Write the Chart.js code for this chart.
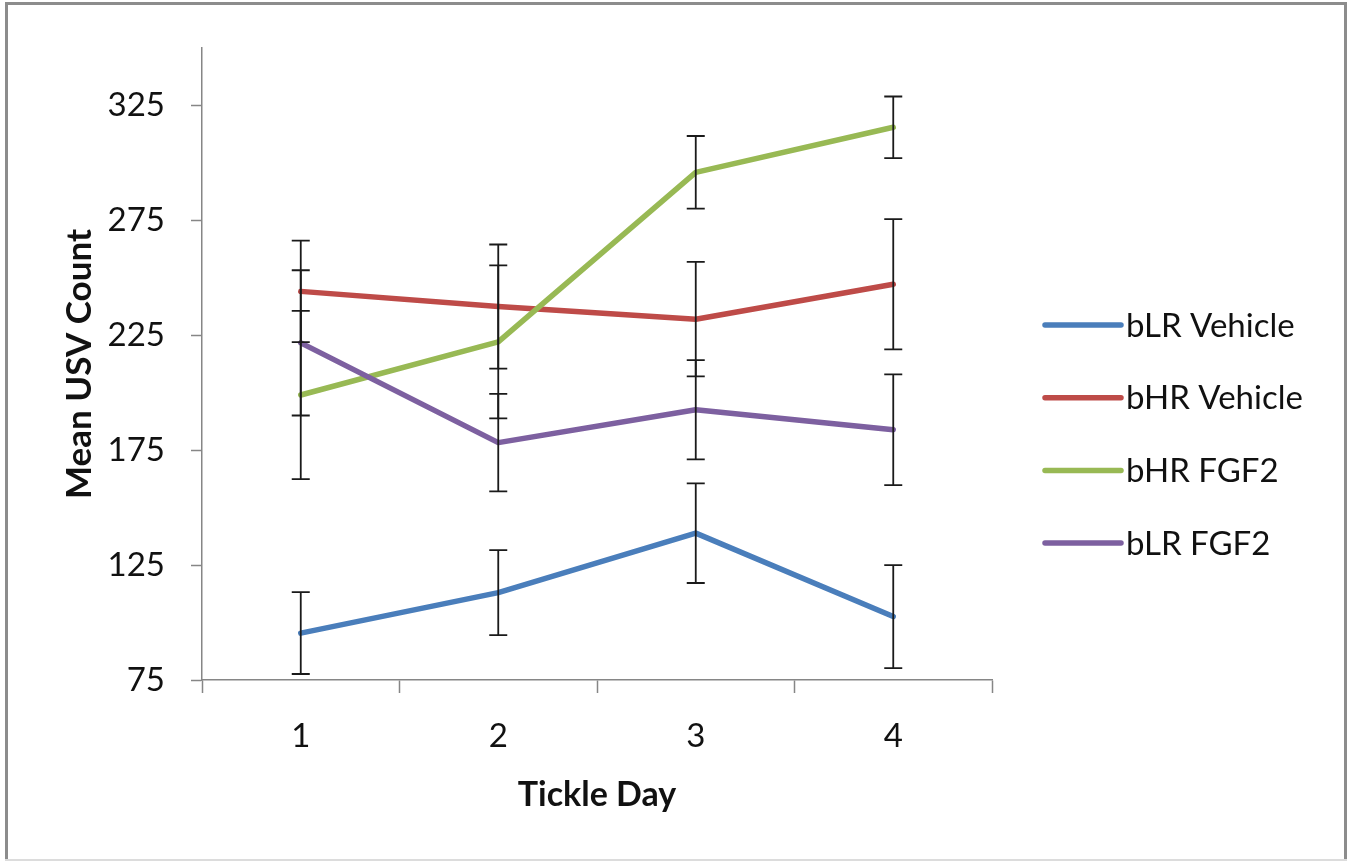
<!DOCTYPE html>
<html>
<head>
  <meta charset="utf-8">
  <title>Mean USV Count by Tickle Day</title>
  <script src="https://cdn.jsdelivr.net/npm/chart.js@4.4.1/dist/chart.umd.min.js"></script>
  <style>
    html, body { margin: 0; padding: 0; background: #ffffff; }
    #usvChart { display: block; }
  </style>
</head>
<body>
  <canvas id="usvChart" width="1354" height="863"></canvas>

  <script>
    // Chart data
    const days = ['1', '2', '3', '4'];
    const yTicks = [75, 125, 175, 225, 275, 325];

    const blrVehicle = [95.4, 113.0, 138.9, 102.6];
    const blrVehicleErr = [17.8, 18.5, 21.7, 22.4];

    const bhrVehicle = [244.1, 237.5, 232.0, 247.2];
    const bhrVehicleErr = [22.1, 27.0, 24.9, 28.3];

    const bhrFgf2 = [199.0, 222.1, 295.9, 315.5];
    const bhrFgf2Err = [36.6, 33.3, 15.8, 13.4];

    const blrFgf2 = [221.7, 178.3, 192.6, 183.9];
    const blrFgf2Err = [31.6, 21.2, 21.6, 24.1];

    const axisGray = '#868686';
    const textColor = '#111111';

    // Frame around the whole picture
    const framePlugin = {
      id: 'frame',
      beforeDraw(chart) {
        const ctx = chart.ctx;
        ctx.save();
        ctx.fillStyle = '#ffffff';
        ctx.fillRect(0, 0, chart.width, chart.height);
        ctx.restore();
      },
      afterDraw(chart) {
        const ctx = chart.ctx;
        ctx.save();
        ctx.fillStyle = '#8c8c8c';
        ctx.fillRect(5, 2, 1342, 3);
        ctx.fillRect(5, 2, 3, 858);
        ctx.fillRect(1344, 2, 3, 858);
        ctx.fillStyle = '#dcdcdc';
        ctx.fillRect(5, 859, 1342, 2);
        ctx.restore();
      }
    };

    // Vertical error bars with caps
    const errorBarPlugin = {
      id: 'errorBars',
      afterDatasetsDraw(chart) {
        const ctx = chart.ctx;
        const yScale = chart.scales.y;
        ctx.save();
        ctx.strokeStyle = '#1a1a1a';
        ctx.lineWidth = 1.8;
        chart.data.datasets.forEach((ds, i) => {
          const meta = chart.getDatasetMeta(i);
          meta.data.forEach((pt, j) => {
            const v = ds.data[j];
            const e = ds.errors[j];
            const yTop = yScale.getPixelForValue(v + e);
            const yBot = yScale.getPixelForValue(v - e);
            const x = pt.x;
            ctx.beginPath();
            ctx.moveTo(x, yTop);
            ctx.lineTo(x, yBot);
            ctx.moveTo(x - 9, yTop);
            ctx.lineTo(x + 9, yTop);
            ctx.moveTo(x - 9, yBot);
            ctx.lineTo(x + 9, yBot);
            ctx.stroke();
          });
        });
        ctx.restore();
      }
    };

    // Legend on the right, line swatch followed by label
    const sideLegendPlugin = {
      id: 'sideLegend',
      afterDraw(chart) {
        const ctx = chart.ctx;
        const x0 = 1045;
        const y0 = 325;
        const step = 72.7;
        ctx.save();
        ctx.font = '33px Lato';
        ctx.textBaseline = 'middle';
        ctx.textAlign = 'left';
        chart.data.datasets.forEach((ds, i) => {
          const y = y0 + i * step;
          ctx.strokeStyle = ds.borderColor;
          ctx.lineWidth = 5.5;
          ctx.lineCap = 'round';
          ctx.beginPath();
          ctx.moveTo(x0, y);
          ctx.lineTo(x0 + 76, y);
          ctx.stroke();
          ctx.fillStyle = textColor;
          ctx.fillText(ds.label, x0 + 81, y + 1);
        });
        ctx.restore();
      }
    };

    function series(label, data, errors, color, order) {
      return {
        label: label,
        data: data,
        errors: errors,
        borderColor: color,
        backgroundColor: color,
        borderWidth: 5.5,
        borderJoinStyle: 'round',
        borderCapStyle: 'round',
        pointRadius: 0,
        pointHoverRadius: 0,
        tension: 0,
        fill: false,
        order: order
      };
    }

    document.addEventListener('DOMContentLoaded', function() {
      const ctx = document.getElementById('usvChart').getContext('2d');
      new Chart(ctx, {
        type: 'line',
        data: {
          labels: days,
          datasets: [
            series('bLR Vehicle', blrVehicle, blrVehicleErr, '#4a7ebb', 4),
            series('bHR Vehicle', bhrVehicle, bhrVehicleErr, '#be4b48', 3),
            series('bHR FGF2', bhrFgf2, bhrFgf2Err, '#98b954', 2),
            series('bLR FGF2', blrFgf2, blrFgf2Err, '#7d60a0', 1)
          ]
        },
        options: {
          responsive: false,
          animation: false,
          layout: {
            padding: { left: 10, top: 48, right: 362, bottom: 10 }
          },
          plugins: {
            legend: { display: false },
            tooltip: { enabled: false }
          },
          scales: {
            x: {
              type: 'category',
              offset: true,
              afterFit: s => { s.height = 173; },
              grid: {
                offset: true,
                drawOnChartArea: false,
                drawTicks: true,
                tickLength: 13,
                tickColor: axisGray,
                tickWidth: 1.5
              },
              border: { display: true, color: axisGray, width: 1.5 },
              ticks: {
                color: textColor,
                font: { family: 'Lato', size: 33 },
                padding: 24,
                maxRotation: 0
              },
              title: {
                display: true,
                text: 'Tickle Day',
                color: textColor,
                font: { family: 'Lato', size: 34, weight: 'bold' },
                padding: { top: 0, bottom: 38 }
              }
            },
            y: {
              min: 75,
              max: 350,
              afterFit: s => { s.width = 192; },
              afterBuildTicks: s => { s.ticks = yTicks.map(v => ({ value: v })); },
              grid: {
                drawOnChartArea: false,
                drawTicks: true,
                tickLength: 11,
                tickColor: axisGray,
                tickWidth: 1.5
              },
              border: { display: true, color: axisGray, width: 1.5 },
              ticks: {
                color: textColor,
                font: { family: 'Lato', size: 33 },
                padding: 26
              },
              title: {
                display: true,
                text: 'Mean USV Count',
                color: textColor,
                font: { family: 'Lato', size: 35, weight: 'bold' },
                padding: { top: 49, bottom: 0 }
              }
            }
          }
        },
        plugins: [framePlugin, errorBarPlugin, sideLegendPlugin]
      });
    });
  </script>
</body>
</html>
